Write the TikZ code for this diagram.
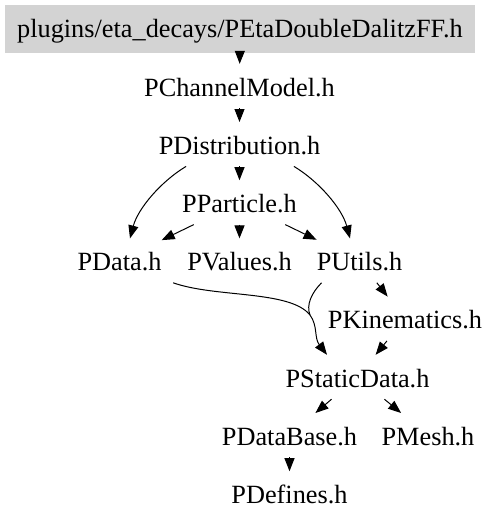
\documentclass[tikz,border=0pt]{standalone}
\usepackage{fontspec}
\setmainfont{Liberation Serif}
\usetikzlibrary{arrows.meta}
\definecolor{boxgray}{RGB}{211,211,211}
\begin{document}
\begin{tikzpicture}[x=1pt,y=-1pt,
  hdr/.style={font=\fontsize{26.3}{30}\selectfont, inner sep=0pt, text height=32pt, text depth=12pt, anchor=base},
  topbox/.style={font=\fontsize{26.3}{30}\selectfont, fill=boxgray, minimum width=470pt, minimum height=48pt, inner sep=0pt, text height=20pt, text depth=4pt},
  link/.style={line width=1pt},
  arr/.style={line width=1pt, -{Triangle[length=13pt,width=10pt]}}]
\useasboundingbox (0,0) rectangle (499,528);
\node[topbox] (top) at (240,29) {plugins/eta\_decays/PEtaDoubleDalitzFF.h};
\node[hdr] (chan) at (239.5,96) {PChannelModel.h};
\node[hdr] (dist) at (239.5,154.2) {PDistribution.h};
\node[hdr] (part) at (239.5,212.4) {PParticle.h};
\node[hdr] (data) at (119.5,270.6) {PData.h};
\node[hdr] (vals) at (239.5,270.6) {PValues.h};
\node[hdr] (util) at (359.5,270.6) {PUtils.h};
\node[hdr] (kin) at (405,328.8) {PKinematics.h};
\node[hdr] (sd) at (357.5,387) {PStaticData.h};
\node[hdr] (db) at (289.5,445.2) {PDataBase.h};
\node[hdr] (mesh) at (428,445.2) {PMesh.h};
\node[hdr] (def) at (289.5,503.4) {PDefines.h};
\coordinate (j) at (310,315);

\draw[arr] (top) -- (chan);
\draw[arr] (chan) -- (dist);
\draw[arr] (dist) -- (part);
\draw[arr] (part) -- (vals);
\draw[arr] (part) -- (data);
\draw[arr] (part) -- (util);
\draw[arr] ([xshift=27.5pt]dist.south west) .. controls +(-25,15) and +(8,-30) .. ([xshift=10.5pt]data.north);
\draw[arr] ([xshift=-26.5pt]dist.south east) .. controls +(25,15) and +(-8,-30) .. ([xshift=-9.5pt]util.north);
\draw[link] ([xshift=11.5pt]data.south east) .. controls +(42,15) and +(-20,-25) .. (j);
\draw[link] ([xshift=5pt]util.south west) .. controls +(-10,10) and +(-4,-10) .. (j);
\draw[arr] (j) .. controls +(8,11) and +(-13,-17) .. ([xshift=-30.5pt]sd.north);
\draw[arr] (util) -- (kin);
\draw[arr] (kin) -- (sd);
\draw[arr] (sd) -- (db);
\draw[arr] (sd) -- (mesh);
\draw[arr] (db) -- (def);
\end{tikzpicture}
\end{document}
